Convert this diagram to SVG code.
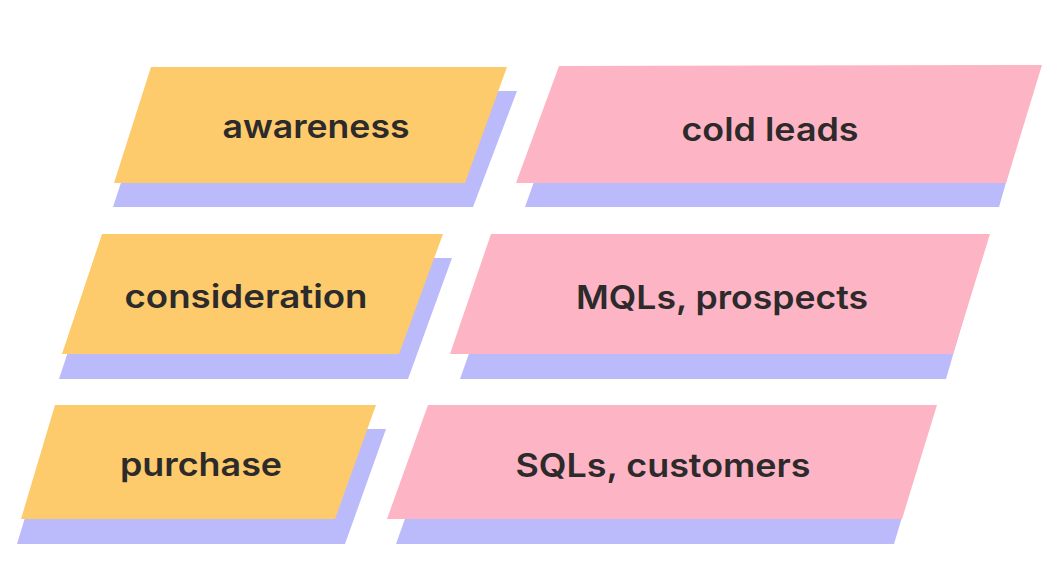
<svg xmlns="http://www.w3.org/2000/svg" width="1051" height="586" viewBox="0 0 1051 586">
<style>
.sh{fill:#bbbafa}
.y{fill:#fdcb6c}
.p{fill:#fdb4c4}
.t{font-family:Inter,"Noto Sans","Liberation Sans",sans-serif;font-weight:600;font-size:32px;fill:#2c2a2b;text-anchor:middle}
</style>
<rect width="1051" height="586" fill="#ffffff"/>
<g id="node-awareness">
<polygon class="sh" points="151,91 517,91 473,207 113,207"/>
<polygon class="y" points="151,67 507,67 465,183 114,183"/>
<text class="t" x="316" y="138" textLength="187" lengthAdjust="spacingAndGlyphs">awareness</text>
</g>
<g id="node-cold-leads">
<polygon class="sh" points="556,120 1024,120 999,207 525,207"/>
<polygon class="p" points="559,66 1042,65 1006,183 516,183"/>
<text class="t" x="770" y="141" textLength="177" lengthAdjust="spacingAndGlyphs">cold leads</text>
</g>
<g id="node-consideration">
<polygon class="sh" points="99,258 452,258 408,379 59,379"/>
<polygon class="y" points="102,234 443,234 399,354 62,354"/>
<text class="t" x="246" y="308" textLength="243" lengthAdjust="spacingAndGlyphs">consideration</text>
</g>
<g id="node-mqls">
<polygon class="sh" points="488,300 969,300 946,379 460,379"/>
<polygon class="p" points="491,234 990,234 953,354 450,354"/>
<text class="t" x="722" y="309" textLength="292" lengthAdjust="spacingAndGlyphs">MQLs, prospects</text>
</g>
<g id="node-purchase">
<polygon class="sh" points="52,429 386,429 345,544 17,544"/>
<polygon class="y" points="55,405 376,405 335,519 21,519"/>
<text class="t" x="201" y="476" textLength="162" lengthAdjust="spacingAndGlyphs">purchase</text>
</g>
<g id="node-sqls">
<polygon class="sh" points="426,460 919,460 894,544 396,544"/>
<polygon class="p" points="428,405 937,405 902,519 387,519"/>
<text class="t" x="663" y="477" textLength="295" lengthAdjust="spacingAndGlyphs">SQLs, customers</text>
</g>
<g id="connectors"/>
</svg>
